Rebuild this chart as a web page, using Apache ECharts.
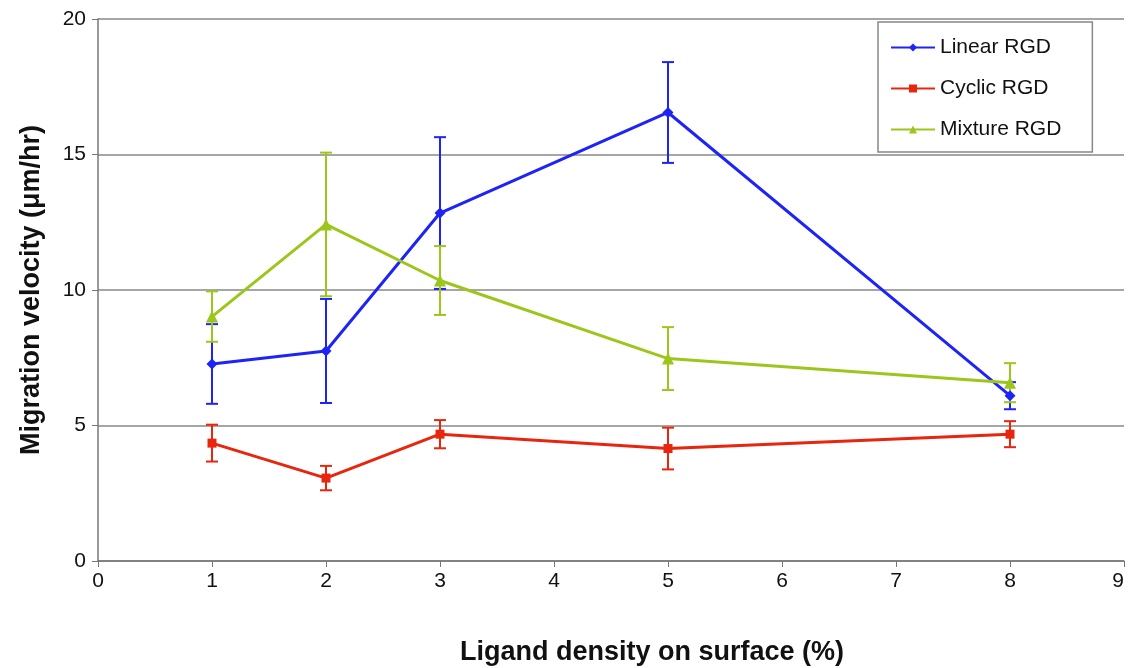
<!DOCTYPE html>
<html>
<head>
<meta charset="utf-8">
<script src="https://cdn.jsdelivr.net/npm/echarts@6/dist/echarts.min.js"></script>
<style>
  html, body { margin: 0; padding: 0; background: #fff; }
  #chart { width: 1128px; height: 668px; }
</style>
</head>
<body>
<div id="chart"></div>
<script>
// ligand density (%)
const xValues = [1, 2, 3, 5, 8];

// migration velocity means and error (um/hr)
const linearMean = [7.27, 7.75, 12.84, 16.55, 6.1];
const linearErr = [1.47, 1.92, 2.8, 1.86, 0.5];
const cyclicMean = [4.35, 3.06, 4.68, 4.15, 4.68];
const cyclicErr = [0.68, 0.45, 0.52, 0.77, 0.48];
const mixtureMean = [9.02, 12.42, 10.35, 7.47, 6.58];
const mixtureErr = [0.93, 2.65, 1.27, 1.16, 0.72];

const yTicks = [0, 5, 10, 15, 20];

const blue = "#1e24f5";
const red = "#e8260f";
const green = "#9dc61c";

const chart = echarts.init(document.getElementById("chart"));

const pairs = (ys) => xValues.map((x, i) => [x, ys[i]]);
const errData = (ys, es) => xValues.map((x, i) => [x, ys[i] - es[i], ys[i] + es[i]]);

// vertical whisker with caps
const errorBars = (name, color, ys, es) => ({
  name: name,
  type: "custom",
  z: 1,
  data: errData(ys, es),
  encode: { x: 0, y: [1, 2] },
  renderItem: (params, api) => {
    const lo = api.coord([api.value(0), api.value(1)]);
    const hi = api.coord([api.value(0), api.value(2)]);
    const w = 6;
    const style = { stroke: color, lineWidth: 2 };
    return {
      type: "group",
      children: [
        { type: "line", shape: { x1: hi[0], y1: hi[1], x2: lo[0], y2: lo[1] }, style: style },
        { type: "line", shape: { x1: hi[0] - w, y1: hi[1], x2: hi[0] + w, y2: hi[1] }, style: style },
        { type: "line", shape: { x1: lo[0] - w, y1: lo[1], x2: lo[0] + w, y2: lo[1] }, style: style },
      ],
    };
  },
});

const lineSeries = (name, color, symbol, size, ys) => ({
  name: name,
  type: "line",
  z: 3,
  data: pairs(ys),
  symbol: symbol,
  symbolSize: size,
  showSymbol: true,
  lineStyle: { color: color, width: 3 },
  itemStyle: { color: color },
});

const option = {
  backgroundColor: "#fff",
  animation: false,
  grid: { left: 98, right: 4, top: 19, bottom: 107, outerBoundsMode: "none", containLabel: false },
  legend: {
    data: ["Linear RGD", "Cyclic RGD", "Mixture RGD"],
    orient: "vertical",
    left: 878,
    top: 22,
    padding: [15, 31, 12, 12],
    itemGap: 20,
    itemWidth: 44,
    itemHeight: 10,
    backgroundColor: "#fff",
    borderColor: "#888",
    borderWidth: 1.5,
    textStyle: { fontFamily: "Liberation Sans", fontSize: 21, color: "#111" },
  },
  xAxis: {
    type: "value",
    min: 0,
    max: 9,
    interval: 1,
    name: "Ligand density on surface (%)",
    nameLocation: "middle",
    nameGap: 78,
    nameTextStyle: {
      fontFamily: "Liberation Sans",
      fontWeight: "bold",
      fontSize: 27,
      color: "#111",
      padding: [0, 0, 0, 82],
    },
    axisLine: { show: true, onZero: false, lineStyle: { color: "#777", width: 1.5 } },
    axisTick: { show: true, length: 6, lineStyle: { color: "#777" } },
    axisLabel: { fontFamily: "Liberation Sans", fontSize: 21, color: "#111", margin: 10, alignMaxLabel: "right" },
    splitLine: { show: false },
  },
  yAxis: {
    type: "value",
    min: yTicks[0],
    max: yTicks[yTicks.length - 1],
    interval: 5,
    name: "Migration velocity (μm/hr)",
    nameLocation: "middle",
    nameGap: 53,
    nameTextStyle: { fontFamily: "Liberation Sans", fontWeight: "bold", fontSize: 27, color: "#111" },
    axisLine: { show: true, lineStyle: { color: "#777", width: 1.5 } },
    axisTick: { show: true, length: 6, lineStyle: { color: "#777" } },
    axisLabel: { fontFamily: "Liberation Sans", fontSize: 21, color: "#111", margin: 12 },
    splitLine: { show: true, lineStyle: { color: "#888", width: 1.5 } },
  },
  series: [
    errorBars("Linear err", blue, linearMean, linearErr),
    errorBars("Cyclic err", red, cyclicMean, cyclicErr),
    errorBars("Mixture err", green, mixtureMean, mixtureErr),
    lineSeries("Linear RGD", blue, "diamond", 11, linearMean),
    lineSeries("Cyclic RGD", red, "rect", 9, cyclicMean),
    lineSeries("Mixture RGD", green, "triangle", 12, mixtureMean),
  ],
};

chart.setOption(option);
</script>
</body>
</html>
